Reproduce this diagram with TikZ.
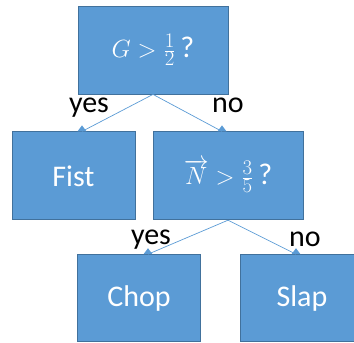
\documentclass[tikz,border=0pt]{standalone}
\usepackage{fontspec}
\setmainfont{Carlito}
\usepackage{xcolor}
\usepackage{tikz}
\usetikzlibrary{positioning, calc}

\definecolor{boxblue}{HTML}{5B9BD5}
\definecolor{boxedge}{HTML}{41719C}

% small tab where a link meets a box
\newcommand{\tabtip}[1]{\fill[boxblue] ($(#1)+(-4.5,0)$) -- ($(#1)+(0,6)$) -- ($(#1)+(4.5,0)$) -- cycle;}

\begin{document}
\begin{tikzpicture}[
    x=1pt, y=1pt,
    node distance=37pt,
    decision/.style={draw=boxedge, line width=0.8pt, fill=boxblue, text=white, minimum width=150pt, minimum height=88pt, inner sep=0pt, font=\fontsize{30}{34}\selectfont},
    leaf/.style={decision, minimum width=123pt},
    link/.style={boxblue, line width=0.7pt},
    answer/.style={font=\fontsize{30}{34}\selectfont, inner sep=0pt, anchor=base}
]
\useasboundingbox (0,0) rectangle (354,-343);

% Boxes
\node[decision] (root) at (153,-50) {$G > \frac{1}{2}$\,?};
\node[leaf, below=of root.south, xshift=-79.5pt] (fist) {Fist};
\node[decision, below=of root.south, xshift=75pt] (ncheck) {$\overrightarrow{N} > \frac{3}{5}$\,?};
\node[leaf, below=34pt of ncheck.south, xshift=-89pt, minimum height=87pt] (chop) {Chop};
\node[leaf, below=34pt of ncheck.south, xshift=74pt, minimum height=87pt] (slap) {Slap};

% Link ends
\coordinate (fisttop) at ($(fist.north)+(8.5,0)$);
\coordinate (nchecktop) at ($(ncheck.north)+(-6,0)$);
\coordinate (choptop) at ($(chop.north)+(9,0)$);
\coordinate (slaptop) at ($(slap.north)+(-6,0)$);

% Links
\draw[link] (root.south) -- (fisttop);
\draw[link] (root.south) -- (nchecktop);
\draw[link] (ncheck.south) -- (choptop);
\draw[link] (ncheck.south) -- (slaptop);
\tabtip{fisttop}
\tabtip{nchecktop}
\tabtip{choptop}
\tabtip{slaptop}

% Answers
\node[answer] (yesroot) at (89,-112) {yes};
\node[answer] (noroot) at (228,-112) {no};
\node[answer] (yesn) at (151,-244) {yes};
\node[answer] (non) at (305,-246) {no};

\end{tikzpicture}
\end{document}
